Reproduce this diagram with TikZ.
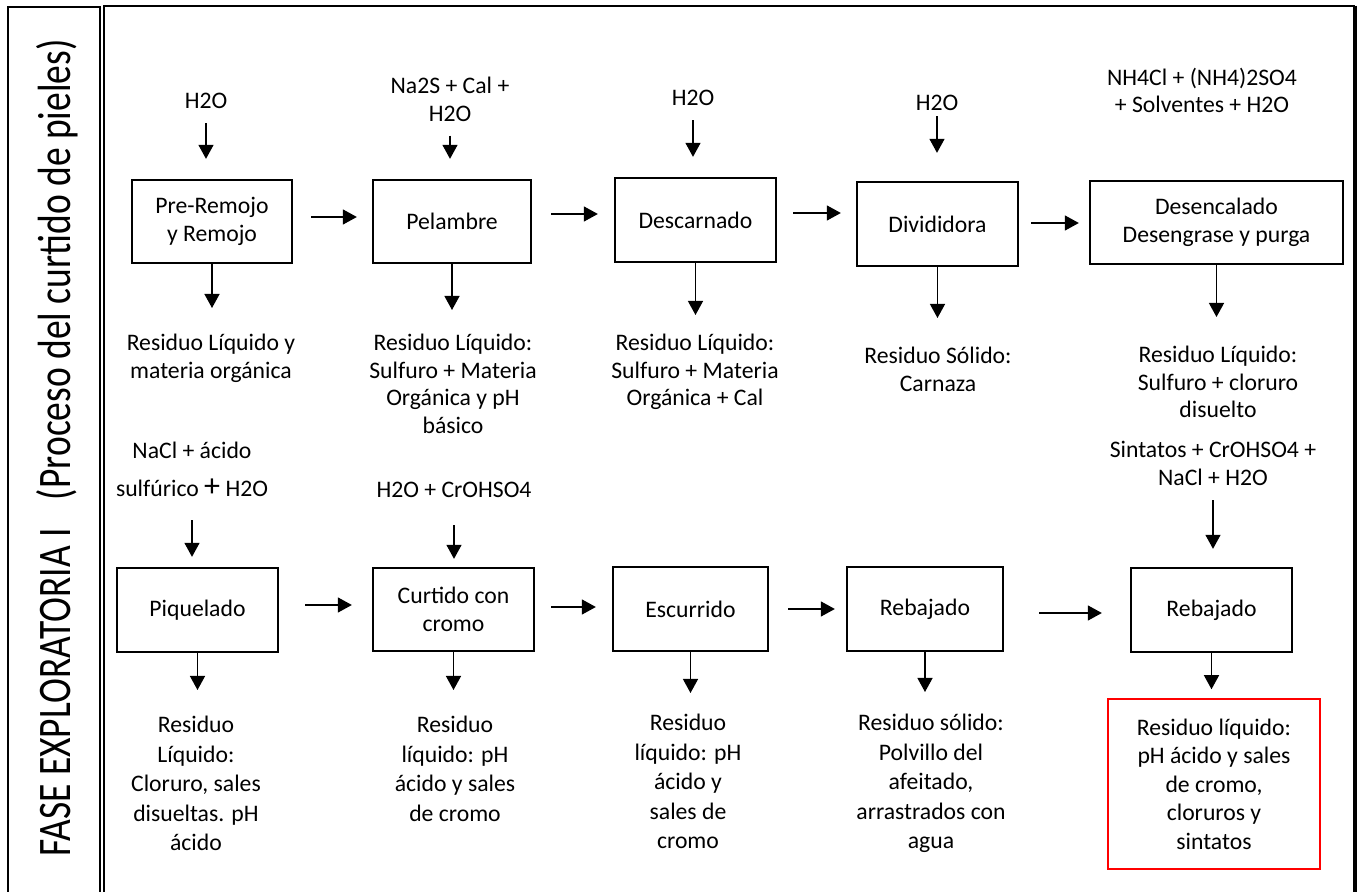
\documentclass[tikz,border=0pt]{standalone}
\usepackage{fontspec}
\setmainfont{Carlito}
\usetikzlibrary{arrows.meta}
\newcommand{\fsn}{\fontsize{11.85}{14}\selectfont}
\newcommand{\fso}{\fontsize{11.85}{13.75}\selectfont}
\newcommand{\fsp}{\fontsize{11.85}{14.75}\selectfont}
\begin{document}
\begin{tikzpicture}[x=0.5pt,y=-0.5pt,
  proc/.style={draw, line width=1.15pt, minimum width=80.5pt, minimum height=42pt, align=center, inner sep=0pt, font=\fsn},
  txt/.style={align=center, inner sep=0pt, font=\fsn},
  otxt/.style={align=center, inner sep=0pt, font=\fso, anchor=north},
  ptxt/.style={align=center, inner sep=0pt, font=\fsp, anchor=north},
  arr/.style={-{Triangle[width=7.5pt,length=7pt]}, line width=0.65pt}]
\useasboundingbox (0,0) rectangle (1362,892);
\clip (0,0) rectangle (1362,892);
% frames
\draw[line width=1pt] (8.3,7) rectangle (99.7,920);
\draw[line width=1.15pt] (104.3,920) -- (104.3,6.2) -- (1355.3,6.2);
\draw[line width=2pt] (1355.3,5.7) -- (1355.3,920);
\node[rotate=90, inner sep=0pt, anchor=base, font=\fontsize{23.3}{25}\selectfont] (title) at (70,448) {\scalebox{0.805}[1]{FASE EXPLORATORIA I\hspace{0.75em}(Proceso del curtido de pieles)}};
% row 1 boxes
\node[proc, minimum width=80pt, minimum height=41.5pt] (b1) at (212,221.5) {Pre-Remojo\\y Remojo};
\node[proc, minimum width=79pt, minimum height=41.5pt] (b2) at (452,221.5) {Pelambre};
\node[proc] (b3) at (695.5,220) {Descarnado};
\node[proc] (b4) at (937.5,224) {Divididora};
\node[proc, minimum width=126.5pt, minimum height=41.5pt] (b5) at (1216.5,222.5) {Desencalado\\Desengrase y purga};
% row 2 boxes
\node[proc] (c1) at (197.5,610) {Piquelado};
\node[proc, minimum height=41.5pt] (c2) at (453.5,609.5) {Curtido con\\cromo};
\node[proc, minimum width=77.5pt] (c3) at (690.5,609) {Escurrido};
\node[proc, minimum width=78pt] (c4) at (925,609) {Rebajado};
\node[proc] (c5) at (1211.5,610) {Rebajado};
% inputs row 1
\node[txt] (i1) at (206,101) {H2O};
\node[txt] (i2) at (450,99) {Na2S + Cal +\\H2O};
\node[txt] (i3) at (693,98) {H2O};
\node[txt] (i4) at (937,103) {H2O};
\node[txt, font=\fontsize{11.85}{13.5}\selectfont] (i5) at (1202,90) {NH4Cl + (NH4)2SO4\\+ Solventes + H2O};
% outputs row 1
\node[otxt] (o1) at (211,334) {Residuo Líquido y\\materia orgánica};
\node[otxt] (o2) at (453,334) {Residuo Líquido:\\Sulfuro + Materia\\Orgánica y pH\\básico};
\node[otxt] (o3) at (695,334) {Residuo Líquido:\\Sulfuro + Materia\\Orgánica + Cal};
\node[otxt] (o4) at (938,347) {Residuo Sólido:\\Carnaza};
\node[otxt] (o5) at (1218,346) {Residuo Líquido:\\Sulfuro + cloruro\\disuelto};
% inputs row 2
\node[txt, anchor=north, font=\fontsize{11.85}{19}\selectfont] (j1) at (192,442) {NaCl + ácido\\sulfúrico {\fontsize{16}{16}\selectfont +} H2O};
\node[txt] (j2) at (454,490) {H2O + CrOHSO4};
\node[txt, anchor=north] (j5) at (1213,441) {Sintatos + CrOHSO4 +\\NaCl + H2O};
% outputs row 2
\node[ptxt] (p1) at (196,716) {Residuo\\Líquido:\\Cloruro, sales\\disueltas. pH\\ácido};
\node[ptxt] (p2) at (455,716) {Residuo\\líquido: pH\\ácido y sales\\de cromo};
\node[ptxt] (p3) at (688,714) {Residuo\\líquido: pH\\ácido y\\sales de\\cromo};
\node[ptxt] (p4) at (931,714) {Residuo sólido:\\Polvillo del\\afeitado,\\arrastrados con\\agua};
\node[draw=red, line width=0.75pt, minimum width=106pt, minimum height=85pt, align=center, inner sep=0pt, font=\fontsize{11.85}{14.25}\selectfont] (p5) at (1214,784) {Residuo líquido:\\pH ácido y sales\\de cromo,\\cloruros y\\sintatos};
% input arrows
\draw[arr, shorten <=7pt, shorten >=10pt] (i1.south) -- (i1.south |- b1.north);
\draw[arr, shorten <=7pt, shorten >=10pt] (i2.south) -- (i2.south |- b2.north);
\draw[arr, shorten <=7pt, shorten >=10pt] (i3.south) -- (i3.south |- b3.north);
\draw[arr, shorten <=2.5pt, shorten >=14pt] (i4.south) -- (i4.south |- b4.north);
\draw[arr, shorten <=11.5pt, shorten >=5pt] (j1.south) -- (j1.south |- c1.north);
\draw[arr, shorten <=13.5pt, shorten >=4pt] (j2.south) -- (j2.south |- c2.north);
\draw[arr, shorten <=7pt, shorten >=9pt] (j5.south) -- (j5.south |- c5.north);
% horizontal arrows
\coordinate (h1) at ([yshift=2.25pt]b1.east);
\coordinate (h2) at ([yshift=3.75pt]b2.east);
\coordinate (h3) at ([yshift=3.5pt]b3.east);
\coordinate (h4) at ([yshift=0.5pt]b4.east);
\coordinate (g1) at ([yshift=2.5pt]c1.east);
\coordinate (g2) at ([yshift=1.25pt]c2.east);
\coordinate (g3) at (c3.east);
\coordinate (g4) at ([yshift=-2pt]c4.east);
\draw[arr, shorten <=9pt, shorten >=7.5pt] (h1) -- (h1 -| b2.west);
\draw[arr, shorten <=9.5pt, shorten >=8pt] (h2) -- (h2 -| b3.west);
\draw[arr, shorten <=8pt, shorten >=7.5pt] (h3) -- (h3 -| b4.west);
\draw[arr, shorten <=6pt, shorten >=5pt] (h4) -- (h4 -| b5.west);
\draw[arr, shorten <=13pt, shorten >=10pt] (g1) -- (g1 -| c2.west);
\draw[arr, shorten <=8pt, shorten >=8pt] (g2) -- (g2 -| c3.west);
\draw[arr, shorten <=9.5pt, shorten >=5.5pt] (g3) -- (g3 -| c4.west);
\draw[arr, shorten <=17.5pt, shorten >=14pt] (g4) -- (g4 -| c5.west);
% output arrows
\draw[arr, shorten >=13pt] (b1.south) -- (b1.south |- o1.north);
\draw[arr, shorten >=12pt] (b2.south) -- (b2.south |- o2.north);
\draw[arr, shorten >=9.5pt] (b3.south) -- (b3.south |- o3.north);
\draw[arr, shorten >=14.5pt] (b4.south) -- (b4.south |- o4.north);
\draw[arr, shorten >=14.5pt] (b5.south) -- (b5.south |- o5.north);
\draw[arr, shorten >=13pt] (c1.south) -- (c1.south |- p1.north);
\draw[arr, shorten >=13pt] (c2.south) -- (c2.south |- p2.north);
\draw[arr, shorten >=10.5pt] (c3.south) -- (c3.south |- p3.north);
\draw[arr, shorten >=11pt] (c4.south) -- (c4.south |- p4.north);
\draw[arr, shorten >=4.5pt] (c5.south) -- (c5.south |- p5.north);
\end{tikzpicture}
\end{document}
